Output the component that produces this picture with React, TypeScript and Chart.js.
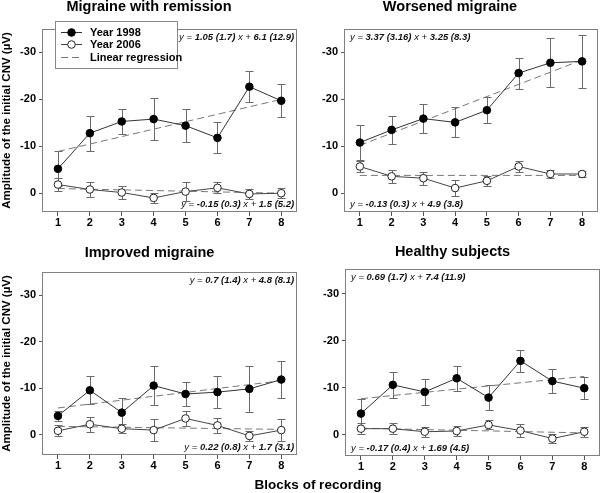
import React, { useEffect, useRef } from "react";
import { Chart, registerables } from "chart.js";

Chart.register(...registerables);

const FONT = "'Liberation Sans', Arial, Helvetica, sans-serif";

// ---- data ----
const blocks = [1, 2, 3, 4, 5, 6, 7, 8];
const yTickValues = [-30, -20, -10, 0];
const seriesLabels = ["Year 1998", "Year 2006", "Linear regression"];
const panelTitles = ["Migraine with remission", "Worsened migraine", "Improved migraine", "Healthy subjects"];
const yAxisLabel = "Amplitude of the initial CNV (µV)";
const xAxisLabel = "Blocks of recording";

const remission1998 = [-5.2, -12.8, -15.3, -15.8, -14.4, -11.8, -22.7, -19.7];
const remission1998Err = [3.7, 3.7, 2.7, 4.4, 3.5, 3.3, 3.3, 3.5];
const remission2006 = [-1.85, -0.8, -0.15, 1.0, -0.35, -1.15, 0.15, 0.0];
const remission2006Err = [1.4, 1.6, 1.4, 1.0, 2.1, 1.2, 1.05, 1.1];
const remissionReg1998 = [-8.9, -20.0];
const remissionReg2006 = [-1.0, 0.0];
const remissionEq1998 = ["1.05 (1.7)", "6.1 (12.9)"];
const remissionEq2006 = ["-0.15 (0.3)", "1.5 (5.2)"];

const worsened1998 = [-10.8, -13.5, -15.9, -15.1, -17.7, -25.6, -27.8, -28.1];
const worsened1998Err = [3.7, 3.0, 3.1, 3.2, 2.8, 3.3, 5.2, 5.6];
const worsened2006 = [-5.7, -3.6, -3.2, -1.1, -2.65, -5.7, -4.1, -4.1];
const worsened2006Err = [1.2, 1.4, 1.4, 1.7, 1.05, 1.1, 0.9, 0.7];
const worsenedReg1998 = [-10.2, -28.4];
const worsenedReg2006 = [-3.8, -3.8];
const worsenedEq1998 = ["3.37 (3.16)", "3.25 (8.3)"];
const worsenedEq2006 = ["-0.13 (0.3)", "4.9 (3.8)"];

const improved1998 = [-4.1, -9.6, -4.8, -10.6, -8.8, -9.2, -9.9, -11.9];
const improved1998Err = [1.1, 3.05, 3.2, 4.25, 2.6, 3.4, 5.0, 4.0];
const improved2006 = [-0.9, -2.3, -1.35, -1.05, -3.55, -2.05, 0.2, -1.05];
const improved2006Err = [1.2, 1.6, 1.0, 2.3, 1.6, 1.7, 1.0, 2.3];
const improvedReg1998 = [-5.8, -11.65];
const improvedReg2006 = [-1.85, -1.2];
const improvedEq1998 = ["0.7 (1.4)", "4.8 (8.1)"];
const improvedEq2006 = ["0.22 (0.8)", "1.7 (3.1)"];

const healthy1998 = [-4.5, -10.6, -9.1, -12.0, -7.9, -15.7, -11.4, -9.9];
const healthy1998Err = [3.2, 2.7, 2.8, 2.6, 2.6, 2.3, 2.6, 2.4];
const healthy2006 = [-1.3, -1.3, -0.65, -0.8, -2.1, -0.9, 0.8, -0.65];
const healthy2006Err = [1.2, 1.1, 1.1, 1.1, 0.95, 1.3, 1.0, 1.1];
const healthyReg1998 = [-7.66, -12.4];
const healthyReg2006 = [-1.4, -0.4];
const healthyEq1998 = ["0.69 (1.7)", "7.4 (11.9)"];
const healthyEq2006 = ["-0.17 (0.4)", "1.69 (4.5)"];

// ---- styles ----
const LINE_1998 = "#333333";
const LINE_2006 = "#444444";
const REG_COLOR = "#777777";
const ERR_COLOR = "#6a6a6a";
const FRAME_COLOR = "#808080";

type PanelCfg = {
  title: string;
  left: number; top: number; width: number; height: number;
  yAxisWidth: number; xAxisHeight: number; padRight: number;
  titlePadTop: number; titlePadBottom: number;
  yMin: number; yMax: number;
  showYTitle: boolean; showLegend: boolean;
  eqAlign: "left" | "right";
  s1998: number[]; e1998: number[]; s2006: number[]; e2006: number[];
  r1998: number[]; r2006: number[]; q1998: string[]; q2006: string[];
};

const panels: PanelCfg[] = [
  { title: panelTitles[0], left: 0, top: 0, width: 302, height: 245, yAxisWidth: 42, xAxisHeight: 33, padRight: 4,
    titlePadTop: 0, titlePadBottom: 14.5, yMin: -35, yMax: 4, showYTitle: true, showLegend: true, eqAlign: "right",
    s1998: remission1998, e1998: remission1998Err, s2006: remission2006, e2006: remission2006Err,
    r1998: remissionReg1998, r2006: remissionReg2006, q1998: remissionEq1998, q2006: remissionEq2006 },
  { title: panelTitles[1], left: 302, top: 0, width: 303, height: 245, yAxisWidth: 42, xAxisHeight: 33, padRight: 7,
    titlePadTop: 0, titlePadBottom: 14.5, yMin: -35, yMax: 4, showYTitle: false, showLegend: false, eqAlign: "left",
    s1998: worsened1998, e1998: worsened1998Err, s2006: worsened2006, e2006: worsened2006Err,
    r1998: worsenedReg1998, r2006: worsenedReg2006, q1998: worsenedEq1998, q2006: worsenedEq2006 },
  { title: panelTitles[2], left: 0, top: 245, width: 302, height: 248, yAxisWidth: 42, xAxisHeight: 38, padRight: 3,
    titlePadTop: 1, titlePadBottom: 11.5, yMin: -35, yMax: 4.3, showYTitle: true, showLegend: false, eqAlign: "right",
    s1998: improved1998, e1998: improved1998Err, s2006: improved2006, e2006: improved2006Err,
    r1998: improvedReg1998, r2006: improvedReg2006, q1998: improvedEq1998, q2006: improvedEq2006 },
  { title: panelTitles[3], left: 302, top: 245, width: 303, height: 248, yAxisWidth: 43, xAxisHeight: 37, padRight: 2,
    titlePadTop: 0, titlePadBottom: 9.5, yMin: -35.2, yMax: 4.5, showYTitle: false, showLegend: false, eqAlign: "left",
    s1998: healthy1998, e1998: healthy1998Err, s2006: healthy2006, e2006: healthy2006Err,
    r1998: healthyReg1998, r2006: healthyReg2006, q1998: healthyEq1998, q2006: healthyEq2006 },
];

const framePlugin = {
  id: "frameBox",
  beforeDatasetsDraw(chart: any) {
    const { ctx, chartArea: a } = chart;
    ctx.save();
    ctx.strokeStyle = FRAME_COLOR;
    ctx.lineWidth = 1;
    ctx.strokeRect(Math.round(a.left) + 0.5, Math.round(a.top) + 0.5, Math.round(a.right - a.left) - 1, Math.round(a.bottom - a.top) - 1);
    ctx.restore();
  },
};

const errorBarsPlugin = {
  id: "errorBars",
  beforeDatasetsDraw(chart: any) {
    const { ctx } = chart;
    const xs = chart.scales.x, ys = chart.scales.y;
    chart.data.datasets.forEach((ds: any) => {
      if (!ds.errors) return;
      ctx.save();
      ctx.strokeStyle = ERR_COLOR;
      ctx.lineWidth = 1;
      ds.data.forEach((pt: any, i: number) => {
        const e = ds.errors[i];
        const px = Math.round(xs.getPixelForValue(pt.x)) + 0.5;
        const y1 = Math.round(ys.getPixelForValue(pt.y - e)) + 0.5;
        const y2 = Math.round(ys.getPixelForValue(pt.y + e)) + 0.5;
        ctx.beginPath();
        ctx.moveTo(px, y1); ctx.lineTo(px, y2);
        ctx.moveTo(px - 4, y1); ctx.lineTo(px + 4, y1);
        ctx.moveTo(px - 4, y2); ctx.lineTo(px + 4, y2);
        ctx.stroke();
      });
      ctx.restore();
    });
  },
};

function drawEquation(ctx: any, parts: string[], x: number, y: number, align: "left" | "right") {
  const size = 9.5;
  const segs: [string, boolean][] = [["y = ", false], [parts[0], true], [" x + ", false], [parts[1], true]];
  const fontFor = (b: boolean) => `italic ${b ? "bold " : ""}${size}px ${FONT}`;
  let total = 0;
  segs.forEach(([t, b]) => { ctx.font = fontFor(b); total += ctx.measureText(t).width; });
  let cx = align === "left" ? x : x - total;
  ctx.textBaseline = "middle";
  ctx.textAlign = "left";
  ctx.fillStyle = "#111";
  segs.forEach(([t, b]) => {
    ctx.font = fontFor(b);
    ctx.fillText(t, cx, y);
    cx += ctx.measureText(t).width;
  });
}

const equationPlugin = {
  id: "equations",
  afterDatasetsDraw(chart: any, _args: any, opts: any) {
    const { ctx, chartArea: a } = chart;
    ctx.save();
    const x = opts.align === "left" ? a.left + 6 : a.right - 3;
    drawEquation(ctx, opts.top, x, a.top + 8.5, opts.align);
    drawEquation(ctx, opts.bottom, x, a.bottom - 8, opts.align);
    ctx.restore();
  },
};

const boxLegendPlugin = {
  id: "boxLegend",
  afterDraw(chart: any, _args: any, opts: any) {
    if (!opts.show) return;
    const { ctx } = chart;
    const bx = 55.5, by = 21.5, bw = 122, bh = 47;
    ctx.save();
    ctx.fillStyle = "#fff";
    ctx.fillRect(bx, by, bw, bh);
    ctx.strokeStyle = "#888";
    ctx.lineWidth = 1;
    ctx.strokeRect(bx, by, bw, bh);
    const rows = [32, 43.5, 57];
    const ds = chart.data.datasets;
    for (let i = 0; i < 3; i++) {
      const d = ds[i];
      const y = Math.round(rows[i]) + 0.5;
      ctx.strokeStyle = d.borderColor;
      ctx.lineWidth = 1;
      ctx.setLineDash(d.borderDash || []);
      ctx.beginPath();
      ctx.moveTo(61, y); ctx.lineTo(82, y);
      ctx.stroke();
      ctx.setLineDash([]);
      if (i < 2) {
        ctx.beginPath();
        ctx.arc(71.5, y, 3.8, 0, Math.PI * 2);
        ctx.fillStyle = d.pointBackgroundColor;
        ctx.fill();
        ctx.strokeStyle = d.pointBorderColor;
        ctx.stroke();
      }
      ctx.fillStyle = "#000";
      ctx.font = `bold 11px ${FONT}`;
      ctx.textBaseline = "middle";
      ctx.textAlign = "left";
      ctx.fillText(d.label, 90, y);
    }
    ctx.restore();
  },
};

function Panel({ cfg }: { cfg: PanelCfg }) {
  const ref = useRef<HTMLCanvasElement>(null);
  useEffect(() => {
    const toPts = (arr: number[]) => blocks.map((b, i) => ({ x: b, y: arr[i] }));
    const regPts = (arr: number[]) => [{ x: blocks[0], y: arr[0] }, { x: blocks[blocks.length - 1], y: arr[1] }];
    const chart = new Chart(ref.current as HTMLCanvasElement, {
      type: "line",
      data: {
        datasets: [
          { label: seriesLabels[0], data: toPts(cfg.s1998), errors: cfg.e1998, borderColor: LINE_1998, borderWidth: 1,
            pointRadius: 3.8, pointBackgroundColor: "#000", pointBorderColor: "#000", pointBorderWidth: 1, pointHoverRadius: 3.8 } as any,
          { label: seriesLabels[1], data: toPts(cfg.s2006), errors: cfg.e2006, borderColor: LINE_2006, borderWidth: 1,
            pointRadius: 3.8, pointBackgroundColor: "#fff", pointBorderColor: "#222", pointBorderWidth: 1, pointHoverRadius: 3.8 } as any,
          { label: seriesLabels[2], data: regPts(cfg.r1998), borderColor: REG_COLOR, borderWidth: 1, borderDash: [7, 4], pointRadius: 0 } as any,
          { label: seriesLabels[2] + " 2006", data: regPts(cfg.r2006), borderColor: REG_COLOR, borderWidth: 1, borderDash: [7, 4], pointRadius: 0 } as any,
        ],
      },
      options: {
        animation: false,
        responsive: false,
        events: [],
        layout: { padding: { left: 0, right: cfg.padRight, top: 0, bottom: 0 } },
        plugins: {
          legend: { display: false },
          tooltip: { enabled: false },
          title: {
            display: true, text: cfg.title, color: "#000",
            font: { family: FONT, size: 14.5, weight: "bold", lineHeight: 1 },
            padding: { top: cfg.titlePadTop, bottom: cfg.titlePadBottom },
          },
          equations: { align: cfg.eqAlign, top: cfg.q1998, bottom: cfg.q2006 },
          boxLegend: { show: cfg.showLegend },
        } as any,
        scales: {
          x: {
            type: "linear", min: 0.5, max: 8.5,
            afterBuildTicks: (s: any) => { s.ticks = blocks.map((v) => ({ value: v })); },
            afterFit: (s: any) => { s.height = cfg.xAxisHeight; },
            grid: { drawOnChartArea: false, drawTicks: true, tickLength: 4, color: "#555" },
            border: { display: false },
            ticks: { color: "#000", padding: 0, font: { family: FONT, size: 11, weight: "bold" }, maxRotation: 0 },
          },
          y: {
            type: "linear", reverse: true, min: cfg.yMin, max: cfg.yMax,
            afterBuildTicks: (s: any) => { s.ticks = yTickValues.map((v) => ({ value: v })); },
            afterFit: (s: any) => { s.width = cfg.yAxisWidth; },
            grid: { drawOnChartArea: false, drawTicks: true, tickLength: 3, color: "#555" },
            border: { display: false },
            ticks: { color: "#000", padding: 3, font: { family: FONT, size: 11, weight: "bold" } },
            title: {
              display: cfg.showYTitle, text: yAxisLabel, color: "#000",
              font: { family: FONT, size: 11.5, weight: "bold" }, padding: { top: 0, bottom: 0 },
            },
          },
        },
      } as any,
      plugins: [framePlugin, errorBarsPlugin, equationPlugin, boxLegendPlugin],
    });
    return () => chart.destroy();
  }, [cfg]);
  return (
    <div style={{ position: "absolute", left: cfg.left, top: cfg.top, width: cfg.width, height: cfg.height }}>
      <canvas ref={ref} width={cfg.width} height={cfg.height} style={{ display: "block", width: cfg.width, height: cfg.height }} />
    </div>
  );
}

export default function App() {
  return (
    <div style={{ position: "fixed", left: 0, top: 0, width: 605, height: 493, background: "#fff", overflow: "hidden" }}>
      {panels.map((p, i) => <Panel key={i} cfg={p} />)}
      <div style={{
        position: "absolute", left: 218, top: 477, width: 200, textAlign: "center",
        fontFamily: FONT, fontWeight: "bold", fontSize: 13.5, lineHeight: "16px", color: "#000",
      }}>{xAxisLabel}</div>
    </div>
  );
}
